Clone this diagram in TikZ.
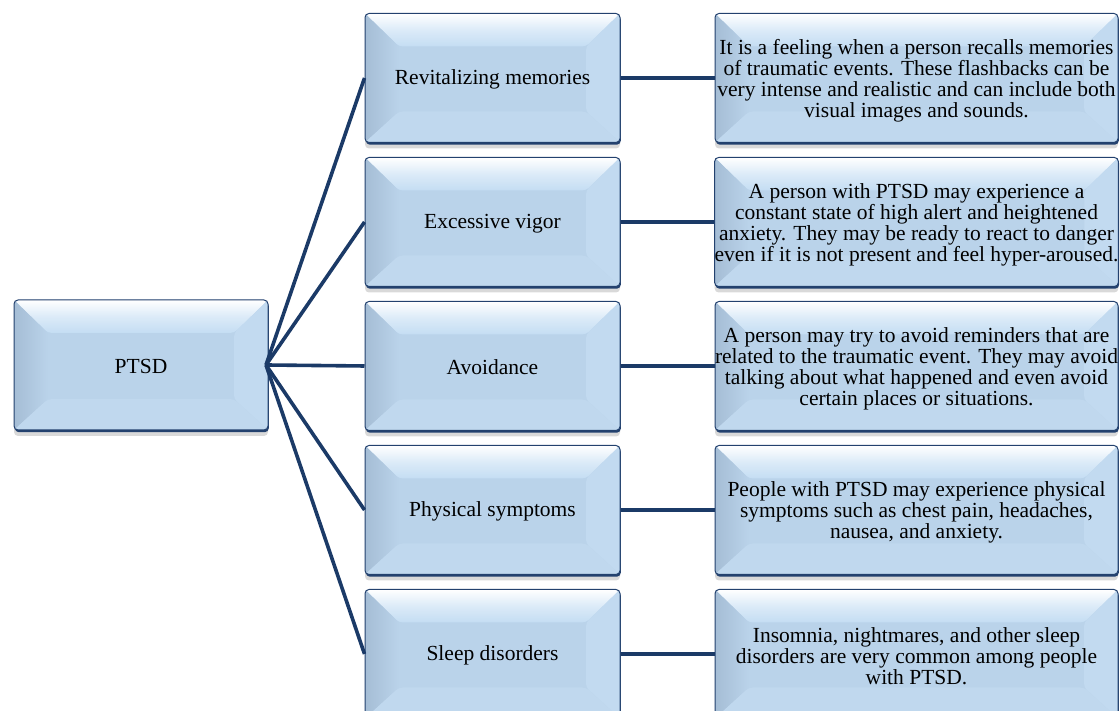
\documentclass[tikz,border=0pt]{standalone}
\usepackage{fontspec}
\setmainfont{Liberation Serif}
\usetikzlibrary{shadows}
\definecolor{navy}{RGB}{27,58,103}
\definecolor{edgec}{RGB}{35,65,110}
\definecolor{fillc}{RGB}{186,211,234}
\definecolor{topin}{RGB}{196,221,243}
\definecolor{leftout}{RGB}{165,189,213}
\definecolor{rightc}{RGB}{194,218,240}
\definecolor{botc}{RGB}{192,216,238}
\newcommand\toppad[1]{\rule{0pt}{#1}}
\tikzset{
  bevbox/.style={
    rectangle, rounded corners=4pt, inner sep=0pt, align=center,
    font=\fontsize{21.5}{21}\selectfont,
    draw=edgec, line width=1pt, fill=fillc,
    drop shadow={shadow xshift=0pt, shadow yshift=-6pt, fill=black, opacity=0.15},
    drop shadow={shadow xshift=0.8pt, shadow yshift=-2.2pt, fill=edgec, opacity=1},
    path picture={
      \coordinate (NW) at (path picture bounding box.north west);
      \coordinate (NE) at (path picture bounding box.north east);
      \coordinate (SW) at (path picture bounding box.south west);
      \coordinate (SE) at (path picture bounding box.south east);
      \coordinate (iNW) at ([shift={(34pt,-33pt)}]NW);
      \coordinate (iNE) at ([shift={(-34pt,-33pt)}]NE);
      \coordinate (iSW) at ([shift={(34pt,31pt)}]SW);
      \coordinate (iSE) at ([shift={(-34pt,31pt)}]SE);
      \shade[top color=white, bottom color=topin, middle color=white!40!topin] (NW) -- (NE) -- (iNE) -- (iNW) -- cycle;
      \shade[left color=leftout, right color=fillc] (NW) -- (iNW) -- (iSW) -- (SW) -- cycle;
      \fill[rightc] (NE) -- (iNE) -- (iSE) -- (SE) -- cycle;
      \fill[botc] (SW) -- (iSW) -- (iSE) -- (SE) -- cycle;
    }
  },
  midbox/.style={bevbox, minimum width=255pt, minimum height=129pt},
  descbox/.style={bevbox, minimum width=403pt, minimum height=129pt},
  link/.style={draw=navy, line width=3.6pt}
}
\begin{document}
\begin{tikzpicture}[x=1pt,y=1pt]
\useasboundingbox (0,0) rectangle (1120,711);
\coordinate (hub) at (266,346);
\node[bevbox, minimum width=254pt, minimum height=130pt] (ptsd) at (141,346) {\toppad{18pt}PTSD};

\node[midbox] (m1) at (492.5,633) {\toppad{18pt}Revitalizing memories};
\node[midbox] (m2) at (492.5,489) {\toppad{18pt}Excessive vigor};
\node[midbox] (m3) at (492.5,345) {\toppad{18pt}Avoidance};
\node[midbox] (m4) at (492.5,201) {\toppad{18pt}Physical symptoms};
\node[midbox] (m5) at (492.5,57) {\toppad{18pt}Sleep disorders};

\node[descbox] (r1) at (916.5,633)
  {\toppad{20pt}It is a feeling when a person recalls memories\\of traumatic events. These flashbacks can be\\very intense and realistic and can include both\\visual images and sounds.};
\node[descbox] (r2) at (916.5,489)
  {\toppad{20pt}A person with PTSD may experience a\\constant state of high alert and heightened\\anxiety. They may be ready to react to danger\\even if it is not present and feel hyper-aroused.};
\node[descbox] (r3) at (916.5,345)
  {\toppad{20pt}A person may try to avoid reminders that are\\related to the traumatic event. They may avoid\\talking about what happened and even avoid\\certain places or situations.};
\node[descbox] (r4) at (916.5,201)
  {\toppad{20pt}People with PTSD may experience physical\\symptoms such as chest pain, headaches,\\nausea, and anxiety.};
\node[descbox] (r5) at (916.5,57)
  {\toppad{20pt}Insomnia, nightmares, and other sleep\\disorders are very common among people\\with PTSD.};

\foreach \m in {m1,m2,m3,m4,m5}{
  \draw[link] (hub) -- (\m.west);
}
\draw[link] (m1.east) -- (r1.west);
\draw[link] (m2.east) -- (r2.west);
\draw[link] (m3.east) -- (r3.west);
\draw[link] (m4.east) -- (r4.west);
\draw[link] (m5.east) -- (r5.west);
\end{tikzpicture}
\end{document}
